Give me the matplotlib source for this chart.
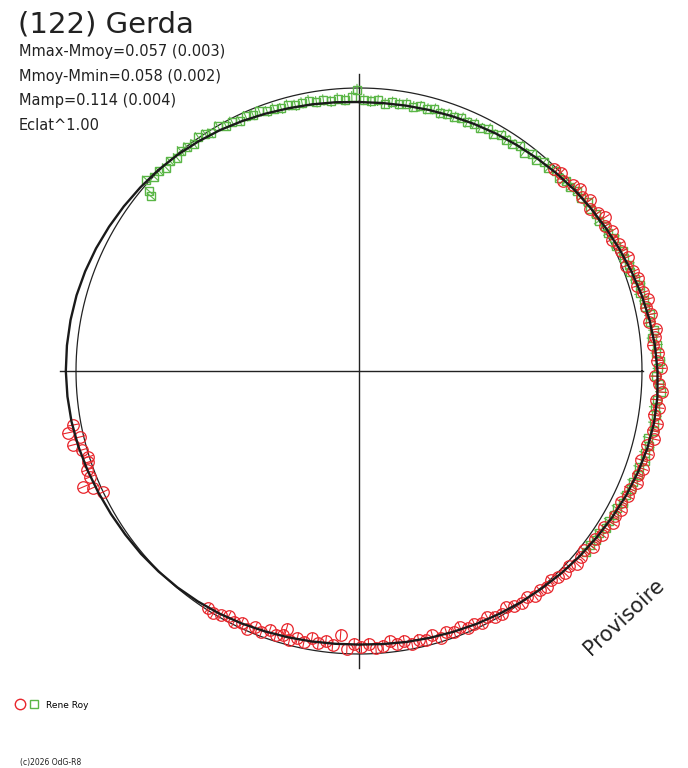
import numpy as np
import matplotlib.pyplot as plt
from matplotlib.lines import Line2D
from matplotlib.legend_handler import HandlerTuple

TITLE = "(122) Gerda"
STATS = ["Mmax-Mmoy=0.057 (0.003)",
         "Mmoy-Mmin=0.058 (0.002)",
         "Mamp=0.114 (0.004)",
         "Eclat^1.00"]
OBSERVER = "Rene Roy"
STAMP = "(c)2026 OdG-R8"
WATERMARK = "Provisoire"

# Fourier fit, magnitude offset every 5 deg of phase (clockwise from top)
fit_phase = list(range(0, 360, 5))
fit_mag = [-0.055, -0.055, -0.053, -0.050, -0.046, -0.041, -0.035, -0.029, -0.022, -0.014,
           -0.006, 0.001, 0.009, 0.018, 0.028, 0.038, 0.047, 0.055, 0.061, 0.065,
           0.065, 0.061, 0.054, 0.046, 0.037, 0.028, 0.020, 0.012, 0.004, -0.003,
           -0.010, -0.016, -0.022, -0.027, -0.031, -0.035, -0.037, -0.036, -0.033, -0.029,
           -0.024, -0.018, -0.012, -0.007, -0.002, 0.002, 0.006, 0.009, 0.013, 0.018,
           0.024, 0.030, 0.035, 0.038, 0.040, 0.040, 0.039, 0.037, 0.033, 0.028,
           0.022, 0.016, 0.010, 0.004, -0.003, -0.011, -0.019, -0.028, -0.036, -0.043,
           -0.048, -0.052]

# session 1 (green squares)
green_phase = [310.0, 310.6, 312.0, 313.5, 315.0, 316.5, 318.0, 319.5, 321.0, 322.5,
               324.0, 325.5, 327.0, 328.0, 330.0, 331.5, 333.0, 334.5, 336.0, 337.5,
               339.0, 340.5, 342.0, 343.5, 345.0, 346.5, 348.0, 349.5, 351.0, 352.5,
               354.0, 355.5, 357.0, 358.5, 359.6, 1.0, 2.5, 4.0, 5.5, 7.0,
               8.5, 10.0, 11.5, 13.0, 14.5, 16.0, 17.5, 19.0, 20.5, 22.0,
               23.5, 25.0, 26.5, 28.0, 29.5, 31.0, 32.5, 34.0, 35.5, 37.0,
               38.5, 40.0, 41.5, 43.0, 44.5, 46.0, 47.5, 49.0, 50.5, 52.0,
               53.5, 55.0, 56.5, 58.0, 59.5, 61.0, 62.5, 64.0, 65.5, 67.0,
               68.5, 70.0, 71.5, 73.0, 74.5, 76.0, 77.5, 79.0, 80.5, 82.0,
               83.5, 85.0, 86.5, 88.0, 89.5, 91.0, 92.5, 94.0, 95.5, 97.0,
               98.5, 100.0, 101.5, 103.0, 104.5, 106.0, 107.5, 109.0, 110.5, 112.0,
               113.5, 115.0, 116.5, 118.0, 119.5, 121.0, 122.5, 124.0, 125.5, 127.0,
               128.5]
green_mag = [-0.045, -0.025, 0.012, -0.004, -0.002, -0.010, -0.004, -0.009, 0.002, -0.002,
             -0.008, 0.004, -0.003, -0.011, -0.002, -0.015, -0.013, -0.024, -0.016, -0.023,
             -0.019, -0.030, -0.028, -0.036, -0.030, -0.038, -0.035, -0.031, -0.041, -0.038,
             -0.047, -0.038, -0.045, -0.034, -0.006, -0.045, -0.051, -0.046, -0.056, -0.048,
             -0.051, -0.045, -0.052, -0.045, -0.048, -0.041, -0.050, -0.044, -0.046, -0.039,
             -0.047, -0.039, -0.045, -0.033, -0.044, -0.028, -0.034, -0.036, -0.025, -0.037,
             -0.022, -0.030, -0.016, -0.021, -0.009, -0.018, -0.008, -0.012, -0.001, -0.005,
             0.005, -0.003, 0.005, -0.001, 0.011, 0.008, 0.019, 0.012, 0.027, 0.020,
             0.029, 0.022, 0.033, 0.042, 0.033, 0.044, 0.041, 0.052, 0.049, 0.058,
             0.048, 0.064, 0.058, 0.070, 0.064, 0.057, 0.069, 0.076, 0.065, 0.058,
             0.069, 0.064, 0.071, 0.055, 0.065, 0.056, 0.065, 0.051, 0.057, 0.048,
             0.055, 0.044, 0.048, 0.035, 0.040, 0.033, 0.039, 0.026, 0.032, 0.023,
             0.029]

# session 2 (red circles)
red_phase = [44.0, 45.5, 47.0, 49.0, 50.5, 52.0, 53.5, 55.0, 56.5, 58.0,
             59.5, 61.0, 62.5, 64.0, 65.5, 67.0, 68.5, 70.0, 71.5, 73.0,
             74.5, 76.0, 77.5, 79.0, 80.5, 82.0, 83.5, 85.0, 86.5, 88.0,
             89.5, 91.0, 92.5, 94.0, 95.5, 97.0, 98.5, 100.0, 101.5, 103.0,
             104.5, 106.0, 107.5, 109.0, 110.5, 112.0, 113.5, 115.0, 116.5, 118.0,
             119.5, 121.0, 122.5, 124.0, 125.5, 127.0, 128.5, 130.0, 131.5, 133.0,
             134.5, 136.0, 137.5, 139.0, 140.5, 142.0, 143.5, 145.0, 146.5, 148.0,
             149.5, 151.0, 152.5, 154.0, 155.5, 157.0, 158.5, 160.0, 161.5, 163.0,
             164.5, 166.0, 167.5, 169.0, 170.5, 172.0, 173.5, 175.0, 176.5, 178.0,
             179.5, 181.0, 182.5, 184.0, 185.5, 187.0, 188.5, 190.0, 191.5, 193.0,
             194.5, 195.7, 196.0, 197.5, 199.0, 200.5, 202.0, 203.5, 205.0, 206.5,
             208.0, 209.5, 211.0, 212.5, 244.7, 246.3, 247.2, 248.5, 250.0, 251.4,
             252.4, 254.1, 255.5, 256.7, 258.0, 259.3]
red_mag = [-0.010, 0.000, -0.015, 0.004, 0.015, 0.001, 0.015, -0.003, 0.013, 0.027,
           0.009, 0.024, 0.007, 0.026, 0.021, 0.038, 0.017, 0.034, 0.043, 0.032,
           0.045, 0.058, 0.045, 0.058, 0.045, 0.066, 0.058, 0.048, 0.066, 0.058,
           0.074, 0.053, 0.067, 0.080, 0.061, 0.074, 0.059, 0.078, 0.067, 0.079,
           0.057, 0.068, 0.049, 0.067, 0.057, 0.066, 0.047, 0.054, 0.038, 0.053,
           0.042, 0.051, 0.029, 0.038, 0.028, 0.037, 0.019, 0.026, 0.032, 0.014,
           0.023, 0.015, 0.002, 0.014, 0.005, 0.011, -0.005, 0.003, -0.005, -0.019,
           -0.003, -0.009, -0.023, -0.009, -0.021, -0.014, -0.032, -0.020, -0.029, -0.016,
           -0.035, -0.023, -0.031, -0.020, -0.037, -0.028, -0.043, -0.028, -0.021, -0.040,
           -0.027, -0.039, -0.020, -0.072, -0.029, -0.042, -0.030, -0.045, -0.026, -0.035,
           -0.019, -0.060, -0.034, -0.024, -0.035, -0.016, -0.026, -0.008, -0.020, -0.010,
           -0.020, -0.009, -0.001, -0.007, 0.001, 0.030, 0.064, 0.024, 0.025, 0.011,
           0.005, 0.020, 0.049, 0.015, 0.057, 0.031]

RED = '#e8262c'
GREEN = '#5ab646'
INK = '#222222'
MAG_SCALE = 0.9   # circle radii per magnitude
ERR = 0.02        # half length of the radial error bars, mag
W, H = 688, 768


def to_xy(phase_deg, mag):
    t = np.radians(np.asarray(phase_deg, dtype=float))
    r = 1 + MAG_SCALE * np.asarray(mag, dtype=float)
    return r * np.sin(t), r * np.cos(t)


def radial_bars(phase_deg, mag):
    mag = np.asarray(mag, dtype=float)
    x0, y0 = to_xy(phase_deg, mag - ERR)
    x1, y1 = to_xy(phase_deg, mag + ERR)
    gap = np.full_like(x0, np.nan)
    return np.column_stack([x0, x1, gap]).ravel(), np.column_stack([y0, y1, gap]).ravel()


def fpos(x, y):
    return x / W, 1 - y / H


fig = plt.figure(figsize=(W / 100, H / 100), dpi=100)
ax = fig.add_axes([0, 0, 1, 1])
# centre of the diagram at pixel (359, 371), 283 px per circle radius
ax.set_xlim(-359 / 283, (W - 359) / 283)
ax.set_ylim(-(H - 371) / 283, 371 / 283)
ax.axis('off')

# axes cross and reference circle
ax.plot([-1.057, 1.004], [0, 0], color=INK, lw=1.0, zorder=1)
ax.plot([0, 0], [-1.049, 1.049], color=INK, lw=1.0, zorder=1)
t = np.linspace(0, 2 * np.pi, 721)
ax.plot(np.cos(t), np.sin(t), color=INK, lw=0.9, zorder=1)

# observations
gx, gy = to_xy(green_phase, green_mag)
bx, by = radial_bars(green_phase, green_mag)
ax.plot(bx, by, color=GREEN, lw=0.8, zorder=2)
ax.plot(gx, gy, ls='none', marker='s', ms=6.3, mfc='none', mec=GREEN, mew=1.0, zorder=2)

rx, ry = to_xy(red_phase, red_mag)
bx, by = radial_bars(red_phase, red_mag)
ax.plot(bx, by, color=RED, lw=0.8, zorder=2)
ax.plot(rx, ry, ls='none', marker='o', ms=8.3, mfc='none', mec=RED, mew=0.9, zorder=2)

# fitted curve
fx, fy = to_xy(fit_phase + fit_phase[:1], fit_mag + fit_mag[:1])
ax.plot(fx, fy, color='#1a1a1a', lw=1.7, zorder=3, solid_joinstyle='round')

# texts
fig.text(*fpos(18, 32), TITLE, fontsize=21, color=INK, va='baseline')
for i, line in enumerate(STATS):
    fig.text(*fpos(19, 56 + 24.6 * i), line, fontsize=10.5, color=INK, va='baseline')

fig.text(*fpos(624, 617), WATERMARK, fontsize=15, color=INK, rotation=43,
         ha='center', va='center', rotation_mode='anchor')

fig.text(*fpos(20, 763), STAMP, fontsize=5.5, color=INK, va='center')

h_red = Line2D([], [], ls='none', marker='o', ms=7.5, mfc='none', mec=RED, mew=1.0)
h_green = Line2D([], [], ls='none', marker='s', ms=6, mfc='none', mec=GREEN, mew=1.0)
fig.legend([(h_red, h_green)], [OBSERVER], handler_map={tuple: HandlerTuple(ndivide=None)},
           loc='center left', bbox_to_anchor=fpos(8, 705), frameon=False,
           fontsize=6.5, handlelength=2.9, handletextpad=0.6, borderpad=0.2)

fig.savefig('out.png', dpi=100)
